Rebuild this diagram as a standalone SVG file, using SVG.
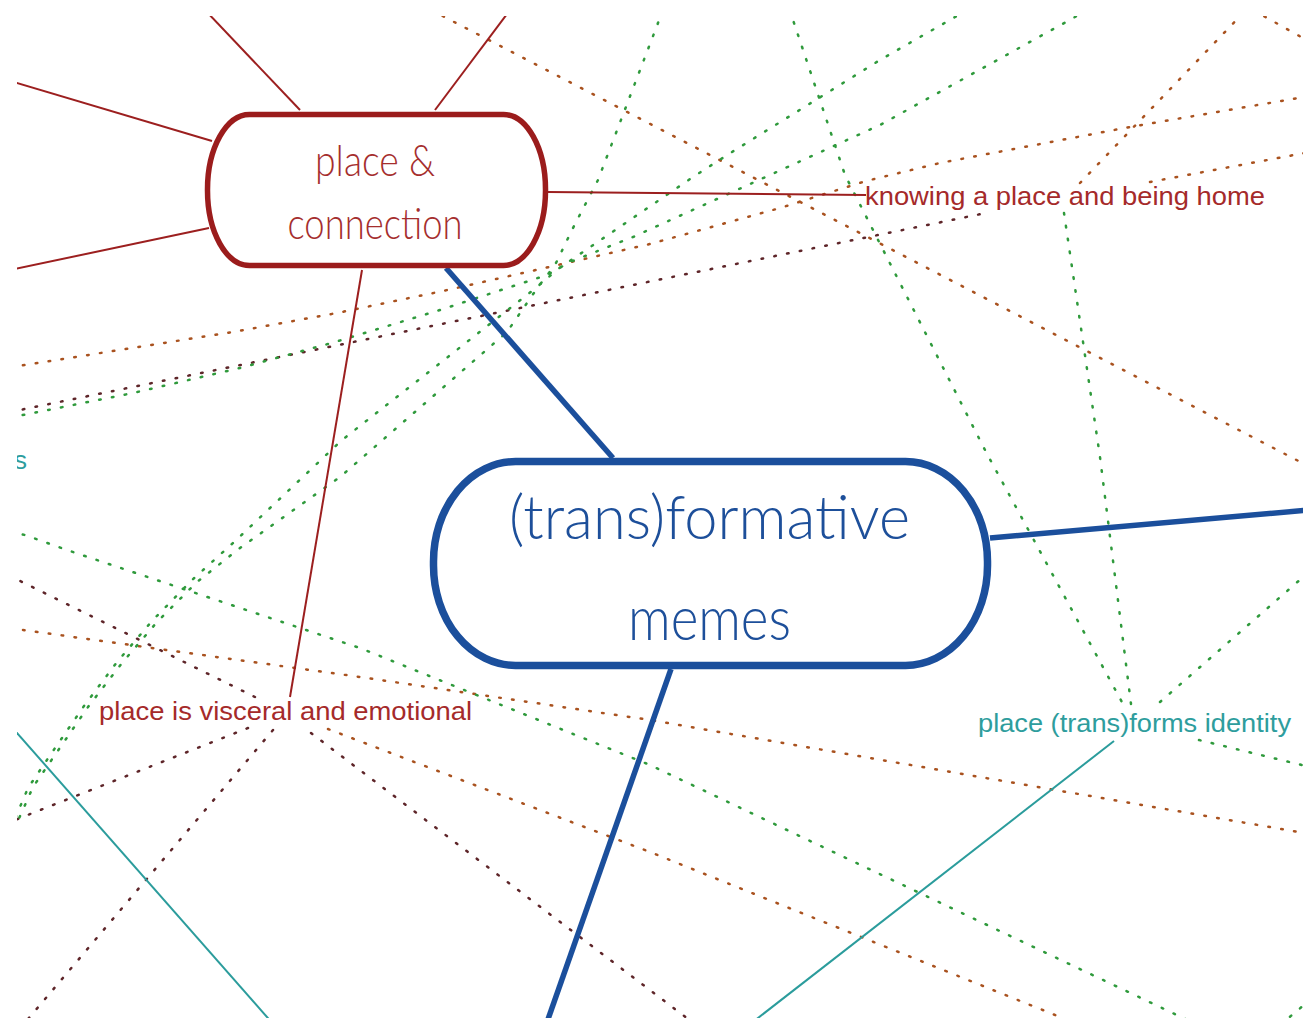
<svg xmlns="http://www.w3.org/2000/svg" width="1303" height="1018" viewBox="0 0 1303 1018">
<defs>
<clipPath id="frame"><rect x="17" y="16" width="1286" height="1002"/></clipPath>
<style>
.dot{fill:none;stroke-width:2.5;stroke-dasharray:1.6 11.4;stroke-linecap:round}
.g{stroke:#2f9a3c}
.o{stroke:#a9521f}
.m{stroke:#5e2529}
.red{fill:none;stroke:#9c1f1f;stroke-width:2}
.blue{fill:none;stroke:#1b4f9c;stroke-width:5.5}
.teal{fill:none;stroke:#2b9c9c;stroke-width:2}
.lbl{font-family:"Liberation Sans",Arial,sans-serif;font-size:26px}
.lred{fill:#a52a2a}
.lteal{fill:#2e9d9d}
.nodeA rect{fill:#fff;stroke:#9b1c1c;stroke-width:5.5}
.nodeB rect{fill:#fff;stroke:#1b4f9c;stroke-width:7.5}
.ntxt{font-family:Lato,"Open Sans","DejaVu Sans",sans-serif;font-weight:300}
</style>
</defs>
<rect width="1303" height="1018" fill="#fff"/>
<g clip-path="url(#frame)">
<g id="connectors">
<path class="dot o" d="M10,367 L25,365 L233,332 L337,313 L443,291 L527,272 L650,244 L780,208 L866,181 L940,163 L1130,127 L1310,96"/>
<path class="dot o" d="M431,10 L1310,467"/>
<path class="dot o" d="M1080,183 L1246,10"/>
<path class="dot o" d="M1253,10 L1310,42"/>
<path class="dot o" d="M1150,182 L1310,152"/>
<path class="dot o" d="M10,629 L23,630 L360,677 L650,720 L1310,834"/>
<path class="dot o" d="M328,729 L650,852 L1060,1017 L1080,1025"/>
<path class="dot m" d="M10,412 L986,213"/>
<path class="dot m" d="M255,697 L10,576"/>
<path class="dot m" d="M248,728 L10,822"/>
<path class="dot m" d="M273,730 L23,1025"/>
<path class="dot m" d="M311,733 L696,1025"/>
<path class="dot g" d="M10,418 L18,416 L133,393 L240,368 L335,342 L440,310 L547,275 L570,262 L633,237 L770,175 L880,125 L1075,17 L1088,10"/>
<path class="dot g" d="M662,10 L658,23 L598,180 L573,228 L555,265 L538,287 L507,332 L340,477 L240,548 L197,582 L157,622 L122,663 L88,707 L57,752 L33,787 L17,823 L13,830"/>
<path class="dot g" d="M967,10 L955,17 L880,60 L732,152 L693,177 L627,222 L558,269 L537,287 L342,440 L233,543 L192,580 L152,621 L117,662 L84,706 L53,751 L28,788 L12,826"/>
<path class="dot g" d="M789,10 L792,17 L845,175 L986,452 L1123,704"/>
<path class="dot g" d="M1064,213 L1100,457 L1131,704"/>
<path class="dot g" d="M1160,702 L1310,571"/>
<path class="dot g" d="M1199,740 L1310,767"/>
<path class="dot g" d="M10,532 L25,535 L67,550 L360,648 L650,765 L1181,1017 L1198,1025"/>
<path class="dot g" d="M1280,1025 L1310,1000"/>
<path class="red" d="M300,110 L205,10"/>
<path class="red" d="M435,110 L510,10"/>
<path class="red" d="M212,141 L10,81"/>
<path class="red" d="M209,228 L10,270"/>
<path class="red" d="M548,192 L866,195"/>
<path class="red" d="M362,270 L290,697"/>
<path class="blue" d="M446,268 L613,458"/>
<path class="blue" d="M990,538 L1310,510"/>
<path class="blue" d="M671,669 L546,1025"/>
<path class="teal" d="M10,725 L274,1025"/>
<path class="teal" d="M1114,741 L749,1025"/>
</g>
<g id="node-place-connection" class="nodeA">
<rect x="207.5" y="114.5" width="338" height="151" rx="42" ry="75"/>
<text class="ntxt" x="375" y="176" font-size="44" fill="#a52e2e" text-anchor="middle" textLength="120" lengthAdjust="spacingAndGlyphs">place &amp;</text>
<text class="ntxt" x="375" y="239" font-size="44" fill="#a52e2e" text-anchor="middle" textLength="175" lengthAdjust="spacingAndGlyphs">connection</text>
</g>
<g id="node-transformative-memes" class="nodeB">
<rect x="433.5" y="461.5" width="554" height="204" rx="82" ry="100"/>
<text class="ntxt" x="509" y="539" font-size="62" fill="#1d4f9a" textLength="401" lengthAdjust="spacingAndGlyphs">(trans)formative</text>
<text class="ntxt" x="628" y="640" font-size="62" fill="#1d4f9a" textLength="163" lengthAdjust="spacingAndGlyphs">memes</text>
</g>
<g id="label-knowing">
<text class="lbl lred" x="865" y="205" textLength="400" lengthAdjust="spacingAndGlyphs">knowing a place and being home</text>
</g>
<g id="label-visceral">
<text class="lbl lred" x="99" y="720" textLength="373" lengthAdjust="spacingAndGlyphs">place is visceral and emotional</text>
</g>
<g id="label-identity">
<text class="lbl lteal" x="978" y="732" textLength="313" lengthAdjust="spacingAndGlyphs">place (trans)forms identity</text>
</g>
<g id="label-offscreen">
<text class="lbl lteal" x="27" y="469" font-size="28" text-anchor="end">s</text>
</g>
</g>
</svg>
